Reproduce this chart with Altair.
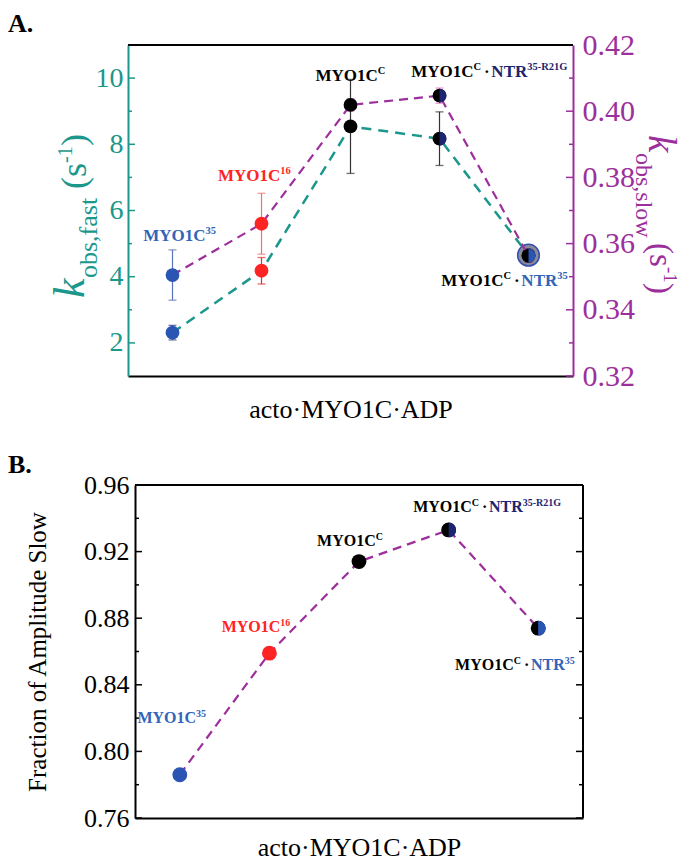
import altair as alt
import pandas as pd

SERIF = "Liberation Serif"
TEAL = "#1b978c"
PURPLE = "#9c2f9c"
BLUE = "#2b55b3"
LBLUE = "#3264b8"
NAVY = "#1c2570"
RED = "#ff2424"
BLACK = "#000000"

# ---------------- data ----------------
categories = ["MYO1C35", "MYO1C16", "MYO1CC", "MYO1CC·NTR35-R21G", "MYO1CC·NTR35"]
positions = [1, 2, 3, 4, 5]
k_fast = [2.31, 4.18, 8.54, 8.17, 4.65]
k_fast_err = [0.22, 0.40, 1.42, 0.81, 0.12]
k_slow = [0.3505, 0.366, 0.4019, 0.4047, 0.3563]
k_slow_err = [0.0076, 0.0092, 0.0018, 0.0023, 0.0020]
frac_slow = [0.786, 0.859, 0.914, 0.933, 0.874]

point_color = [BLUE, RED, BLACK, BLACK, BLACK]
half_color = ["", "", "", NAVY, BLUE]
fast_err_color = ["#2b3f80", "#e03030", "#333333", "#333333", "#555555"]
slow_err_color = ["#5a74b8", "#f07070", "#c060c0", "#e070c0", "#7a4aa0"]

fast_major = [2, 4, 6, 8, 10]
fast_minor = [3, 5, 7, 9]
slow_major = [0.32, 0.34, 0.36, 0.38, 0.40, 0.42]
slow_minor = [0.33, 0.35, 0.37, 0.39, 0.41]
frac_major = [0.76, 0.80, 0.84, 0.88, 0.92, 0.96]
frac_minor = [0.78, 0.82, 0.86, 0.90, 0.94]

# label specs: (text, role, color); role m=main, s=superscript, g=gap(px)
label_specs = [
    [("MYO1C", "m", LBLUE), ("35", "s", LBLUE)],
    [("MYO1C", "m", RED), ("16", "s", RED)],
    [("MYO1C", "m", BLACK), ("C", "s", BLACK)],
    [("MYO1C", "m", BLACK), ("C", "s", BLACK), (3, "g", None), ("·", "m", BLACK), (3, "g", None),
     ("NTR", "m", NAVY), ("35-R21G", "s", NAVY)],
    [("MYO1C", "m", BLACK), ("C", "s", BLACK), (3, "g", None), ("·", "m", BLACK), (3, "g", None),
     ("NTR", "m", LBLUE), ("35", "s", LBLUE)],
]
label_anchor_A = [(1.08, 5.07), (1.92, 6.88), (3.0, 9.92), (4.56, 10.04), (4.73, 3.72)]
label_anchor_B = [(0.91, 0.817), (1.85, 0.8716), (2.90, 0.9233), (4.43, 0.9437), (4.74, 0.8488)]

WID = {'M': .944, 'Y': .722, 'O': .778, '1': .5, 'C': .722, 'N': .722, 'T': .667, 'R': .722,
       '3': .5, '5': .5, '6': .5, '-': .333, '2': .5, 'G': .778, '·': .25, ' ': .25}


def label_pieces(anchors, specs, ppu, msize, ssize):
    rm, rs = [], []
    for (ax, ay), spec in zip(anchors, specs):
        widths = []
        for t, r, c in spec:
            if r == "g":
                widths.append(t)
            else:
                widths.append(sum(WID.get(ch, .5) for ch in t) * (msize if r == "m" else ssize))
        off = -sum(widths) / 2
        for (t, r, c), w in zip(spec, widths):
            if r != "g":
                row = {"x": ax + off / ppu, "y": ay, "text": t, "color": c}
                (rm if r == "m" else rs).append(row)
            off += w
    return pd.DataFrame(rm), pd.DataFrame(rs)


RIGHT_HALF = "M0,-1A1,1,0,0,1,0,1Z"

W_A, H_A = 445, 331
W_B, H_B = 455, 333
XOFF_B = 7

df = pd.DataFrame({
    "cat": categories, "i": positions,
    "fast": k_fast, "slow": k_slow, "frac": frac_slow,
    "col": point_color, "half": half_color,
    "fcol": fast_err_color, "scol": slow_err_color,
})
df["fast_lo"] = df["fast"] - pd.Series(k_fast_err)
df["fast_hi"] = df["fast"] + pd.Series(k_fast_err)
df["slow_lo"] = df["slow"] - pd.Series(k_slow_err)
df["slow_hi"] = df["slow"] + pd.Series(k_slow_err)

one = pd.DataFrame({"a": [0]})

# ---------------- panel A ----------------
axisXA = alt.Axis(title="acto·MYO1C·ADP", labels=False, ticks=False, grid=False,
                  domainColor="black", domainWidth=2, titleFont=SERIF, titleFontSize=26,
                  titleFontWeight="normal", titleColor="black", titlePadding=20)
axisFast = alt.Axis(orient="left", values=fast_major, format="d", ticks=False, grid=False,
                    domainColor=TEAL, domainWidth=2, labelColor=TEAL, labelFont=SERIF,
                    labelFontSize=28, labelPadding=5, title=None, labelFlush=False)
axisSlow = alt.Axis(orient="right", values=slow_major, format=".2f", ticks=False, grid=False,
                    domainColor=PURPLE, domainWidth=2, labelColor=PURPLE, labelFont=SERIF,
                    labelFontSize=30, labelPadding=9, title=None, labelFlush=False)


def XA(f):
    return alt.X(f"{f}:Q", scale=alt.Scale(domain=[0.5, 5.5]), axis=axisXA)


def YF(f):
    return alt.Y(f"{f}:Q", scale=alt.Scale(domain=[1, 11]), axis=axisFast)


def YS(f):
    return alt.Y(f"{f}:Q", scale=alt.Scale(domain=[0.32, 0.42]), axis=axisSlow)


base = alt.Chart(df)
halo = base.transform_filter("datum.i == 5").mark_point(
    shape="circle", filled=True, size=470, fill="#6f6f80", fillOpacity=0.8,
    stroke="#3550b0", strokeWidth=1.5).encode(x=XA("i"), y=YF("fast"))
fast_line = base.mark_line(color=TEAL, strokeDash=[10, 7], strokeWidth=2.5).encode(x=XA("i"), y=YF("fast"))
fast_err = base.mark_rule(strokeWidth=1.2).encode(
    x=XA("i"), y=YF("fast_lo"), y2="fast_hi:Q", color=alt.Color("fcol:N", scale=None))
fast_cap1 = base.mark_tick(orient="horizontal", size=8, thickness=1.3).encode(
    x=XA("i"), y=YF("fast_lo"), color=alt.Color("fcol:N", scale=None))
fast_cap2 = base.mark_tick(orient="horizontal", size=8, thickness=1.3).encode(
    x=XA("i"), y=YF("fast_hi"), color=alt.Color("fcol:N", scale=None))
fast_pts = base.mark_point(shape="circle", filled=True, size=190, opacity=1).encode(
    x=XA("i"), y=YF("fast"), color=alt.Color("col:N", scale=None))
fast_half = base.transform_filter("datum.half != ''").mark_point(
    shape=RIGHT_HALF, filled=True, size=190, opacity=1).encode(
    x=XA("i"), y=YF("fast"), color=alt.Color("half:N", scale=None))
tick_fast_major = alt.Chart(pd.DataFrame({"v": fast_major})).mark_rule(color=TEAL, strokeWidth=1.5).encode(
    x=alt.value(0), x2=alt.value(7), y=YF("v"))
tick_fast_minor = alt.Chart(pd.DataFrame({"v": fast_minor})).mark_rule(color=TEAL, strokeWidth=1.5).encode(
    x=alt.value(0), x2=alt.value(4), y=YF("v"))

lmA, lsA = label_pieces(label_anchor_A, label_specs, W_A / 5, 17, 10.5)
labA_m = alt.Chart(lmA).mark_text(align="left", baseline="alphabetic", font=SERIF, fontWeight="bold",
                                  fontSize=17).encode(x=XA("x"), y=YF("y"), text="text:N",
                                                      color=alt.Color("color:N", scale=None))
labA_s = alt.Chart(lsA).mark_text(align="left", baseline="alphabetic", font=SERIF, fontWeight="bold",
                                  fontSize=10.5, dy=-7).encode(x=XA("x"), y=YF("y"), text="text:N",
                                                               color=alt.Color("color:N", scale=None))

fast_group = alt.layer(tick_fast_major, tick_fast_minor, halo, fast_line, fast_err, fast_cap1, fast_cap2,
                       fast_pts, fast_half, labA_m, labA_s)

slow_line = base.mark_line(color=PURPLE, strokeDash=[9, 6], strokeWidth=2.2).encode(x=XA("i"), y=YS("slow"))
slow_err = base.mark_rule(strokeWidth=1.2).encode(
    x=XA("i"), y=YS("slow_lo"), y2="slow_hi:Q", color=alt.Color("scol:N", scale=None))
slow_cap1 = base.mark_tick(orient="horizontal", size=8, thickness=1.3).encode(
    x=XA("i"), y=YS("slow_lo"), color=alt.Color("scol:N", scale=None))
slow_cap2 = base.mark_tick(orient="horizontal", size=8, thickness=1.3).encode(
    x=XA("i"), y=YS("slow_hi"), color=alt.Color("scol:N", scale=None))
slow_pts = base.mark_point(shape="circle", filled=True, size=190, opacity=1).encode(
    x=XA("i"), y=YS("slow"), color=alt.Color("col:N", scale=None))
slow_half = base.transform_filter("datum.half != ''").mark_point(
    shape=RIGHT_HALF, filled=True, size=190, opacity=1).encode(
    x=XA("i"), y=YS("slow"), color=alt.Color("half:N", scale=None))
tick_slow_major = alt.Chart(pd.DataFrame({"v": slow_major})).mark_rule(color=PURPLE, strokeWidth=1.5).encode(
    x=alt.value(W_A - 7), x2=alt.value(W_A), y=YS("v"))
tick_slow_minor = alt.Chart(pd.DataFrame({"v": slow_minor})).mark_rule(color=PURPLE, strokeWidth=1.5).encode(
    x=alt.value(W_A - 4), x2=alt.value(W_A), y=YS("v"))

slow_group = alt.layer(tick_slow_major, tick_slow_minor, slow_line, slow_err, slow_cap1, slow_cap2,
                       slow_pts, slow_half)


def vtext(s, x, y, size, color, angle=0, style="normal", weight="normal", baseline="alphabetic"):
    kw = dict(text=s, align="left", baseline=baseline, font=SERIF, fontSize=size, color=color,
              fontStyle=style, fontWeight=weight)
    if angle:
        kw["angle"] = angle
    return alt.Chart(one).mark_text(**kw).encode(x=alt.value(x), y=alt.value(y))


deco_A = alt.layer(
    alt.Chart(one).mark_rule(color="black", strokeWidth=2).encode(
        x=alt.value(0), x2=alt.value(W_A), y=alt.value(0)),
    vtext("A.", -120, -34, 26, "black", weight="bold", baseline="top"),
    # left title  k_obs,fast (s^-1)
    vtext("k", -44, 253, 44, TEAL, angle=270, style="italic"),
    vtext("obs,fast", -31, 233, 26, TEAL, angle=270),
    vtext("(", -42, 144, 36, TEAL, angle=270),
    vtext("s", -42, 132, 36, TEAL, angle=270),
    vtext("-1", -56, 118, 20, TEAL, angle=270),
    vtext(")", -42, 101, 36, TEAL, angle=270),
    # right title  k_obs,slow (s^-1)
    vtext("k", 521, 90, 39, PURPLE, angle=90, style="italic"),
    vtext("obs,slow", 508, 108, 24, PURPLE, angle=90),
    vtext("(", 522, 198, 33, PURPLE, angle=90),
    vtext("s", 522, 209, 33, PURPLE, angle=90),
    vtext("-1", 536, 222, 19, PURPLE, angle=90),
    vtext(")", 522, 238, 33, PURPLE, angle=90),
)

chart_A = alt.layer(fast_group, slow_group, deco_A).resolve_scale(y="independent").properties(
    width=W_A, height=H_A)

# ---------------- panel B ----------------
axisXB = alt.Axis(title="acto·MYO1C·ADP", labels=False, ticks=False, grid=False,
                  domainColor="black", domainWidth=2, titleFont=SERIF, titleFontSize=26,
                  titleFontWeight="normal", titleColor="black", titlePadding=16)
axisFrac = alt.Axis(orient="left", offset=-XOFF_B, values=frac_major, format=".2f", ticks=False, grid=False,
                    domainColor="black", domainWidth=2, labelColor="black", labelFont=SERIF,
                    labelFontSize=26, labelPadding=6, labelFlush=False,
                    title="Fraction of Amplitude Slow", titleFont=SERIF, titleFontSize=25,
                    titleFontWeight="normal", titleColor="black", titlePadding=33)


def XB(f):
    return alt.X(f"{f}:Q", scale=alt.Scale(domain=[0.5, 5.5], range=[XOFF_B, W_B]), axis=axisXB)


def YB(f):
    return alt.Y(f"{f}:Q", scale=alt.Scale(domain=[0.76, 0.96]), axis=axisFrac)


frac_line = base.mark_line(color=PURPLE, strokeDash=[9, 6], strokeWidth=2.2).encode(x=XB("i"), y=YB("frac"))
frac_pts = base.mark_point(shape="circle", filled=True, size=220, opacity=1).encode(
    x=XB("i"), y=YB("frac"), color=alt.Color("col:N", scale=None))
frac_half = base.transform_filter("datum.half != ''").mark_point(
    shape=RIGHT_HALF, filled=True, size=220, opacity=1).encode(
    x=XB("i"), y=YB("frac"), color=alt.Color("half:N", scale=None))
tick_frac = alt.layer(
    alt.Chart(pd.DataFrame({"v": frac_major})).mark_rule(color="black", strokeWidth=1.5).encode(
        x=alt.value(XOFF_B), x2=alt.value(XOFF_B + 7), y=YB("v")),
    alt.Chart(pd.DataFrame({"v": frac_minor})).mark_rule(color="black", strokeWidth=1.5).encode(
        x=alt.value(XOFF_B), x2=alt.value(XOFF_B + 4), y=YB("v")),
    alt.Chart(pd.DataFrame({"v": frac_major})).mark_rule(color="black", strokeWidth=1.5).encode(
        x=alt.value(W_B - 7), x2=alt.value(W_B), y=YB("v")),
    alt.Chart(pd.DataFrame({"v": frac_minor})).mark_rule(color="black", strokeWidth=1.5).encode(
        x=alt.value(W_B - 4), x2=alt.value(W_B), y=YB("v")),
)

lmB, lsB = label_pieces(label_anchor_B, label_specs, (W_B - XOFF_B) / 5, 16, 10)
labB_m = alt.Chart(lmB).mark_text(align="left", baseline="alphabetic", font=SERIF, fontWeight="bold",
                                  fontSize=16).encode(x=XB("x"), y=YB("y"), text="text:N",
                                                      color=alt.Color("color:N", scale=None))
labB_s = alt.Chart(lsB).mark_text(align="left", baseline="alphabetic", font=SERIF, fontWeight="bold",
                                  fontSize=10, dy=-6).encode(x=XB("x"), y=YB("y"), text="text:N",
                                                             color=alt.Color("color:N", scale=None))

deco_B = alt.layer(
    alt.Chart(one).mark_rule(color="black", strokeWidth=2).encode(
        x=alt.value(XOFF_B), x2=alt.value(W_B), y=alt.value(0)),
    alt.Chart(one).mark_rule(color="black", strokeWidth=2).encode(
        x=alt.value(W_B), y=alt.value(0), y2=alt.value(H_B)),
    vtext("B.", -120, -33, 26, "black", weight="bold", baseline="top"),
)

chart_B = alt.layer(tick_frac, frac_line, frac_pts, frac_half, labB_m, labB_s, deco_B).properties(
    width=W_B, height=H_B)

chart = alt.vconcat(chart_A, chart_B, spacing=30).properties(
    padding={"left": 0, "top": 3, "right": 5, "bottom": 0}
).configure_view(stroke=None)

chart.save("out.html", embed_options={"renderer": "svg", "actions": False})
